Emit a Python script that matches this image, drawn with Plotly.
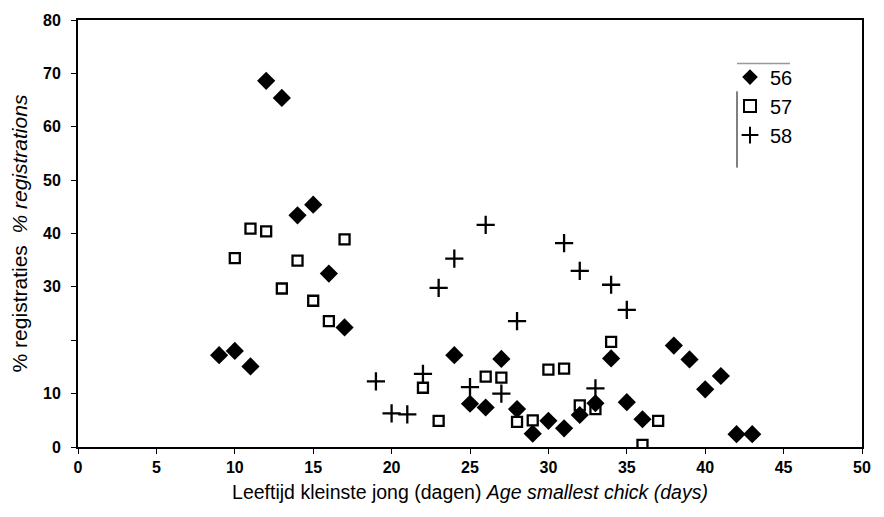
import plotly.graph_objects as go

# Series 56 (filled diamonds)
x56 = [9, 10, 11, 12, 13, 14, 15, 16, 17, 24, 25, 26, 27, 28, 29, 30, 31, 32, 33, 34, 35, 36, 38, 39, 40, 41, 42, 43]
y56 = [17.2, 18.0, 15.1, 68.6, 65.4, 43.4, 45.4, 32.5, 22.4, 17.2, 8.1, 7.4, 16.5, 7.1, 2.5, 4.9, 3.5, 6.0, 8.2, 16.6, 8.4, 5.2, 19.0, 16.4, 10.8, 13.3, 2.4, 2.4]

# Series 57 (open squares)
x57 = [10, 11, 12, 13, 14, 15, 16, 17, 22, 23, 26, 27, 28, 29, 30, 31, 32, 33, 34, 36, 37]
y57 = [35.4, 40.9, 40.4, 29.7, 34.9, 27.4, 23.6, 38.9, 11.1, 4.9, 13.2, 13.0, 4.7, 5.0, 14.5, 14.7, 7.8, 7.1, 19.7, 0.4, 4.9]

# Series 58 (plus)
x58 = [19, 20, 21, 22, 23, 24, 25, 26, 27, 28, 31, 32, 33, 34, 35]
y58 = [12.3, 6.3, 6.1, 13.7, 29.8, 35.3, 11.2, 41.6, 10.0, 23.6, 38.2, 33.0, 11.0, 30.4, 25.7]

x_ticks = [0, 5, 10, 15, 20, 25, 30, 35, 40, 45, 50]
y_ticks = [0, 10, 20, 30, 40, 50, 60, 70, 80]
y_ticktext = ["0", "10", "", "30", "40", "50", "60", "70", "80"]

FONT = "Liberation Sans, Arial, sans-serif"

fig = go.Figure()
fig.add_trace(go.Scatter(x=x56, y=y56, mode="markers", name="56",
                         marker=dict(symbol="diamond", size=14, color="black")))
fig.add_trace(go.Scatter(x=x57, y=y57, mode="markers", name="57",
                         marker=dict(symbol="square-open", size=10, color="black",
                                     line=dict(width=2.3, color="black"))))
fig.add_trace(go.Scatter(x=x58, y=y58, mode="markers", name="58",
                         marker=dict(symbol="cross-thin", size=13, color="black",
                                     line=dict(width=2.3, color="black"))))

fig.update_layout(
    width=884, height=517,
    margin=dict(l=78, r=22, t=16, b=70),
    paper_bgcolor="white", plot_bgcolor="white",
    font=dict(family=FONT, color="black"),
    showlegend=True,
    legend=dict(x=(730 - 78) / 784, y=0.912, xanchor="left", yanchor="top",
                bgcolor="rgba(255,255,255,0)", borderwidth=0,
                font=dict(size=20, family=FONT, color="black"),
                itemsizing="constant", tracegroupgap=4),
    xaxis=dict(range=[0, 50], tickvals=x_ticks, ticktext=[str(v) for v in x_ticks],
               showgrid=False, zeroline=False, showline=True, linecolor="black",
               linewidth=2, mirror=True, ticks="outside", ticklen=5, tickwidth=1,
               tickcolor="black",
               tickfont=dict(size=16, family=FONT, color="black", weight="bold"),
               title=dict(text="Leeftijd kleinste jong (dagen) <i>Age smallest chick (days)</i>",
                          font=dict(size=19.5, family=FONT, color="black"), standoff=10)),
    yaxis=dict(range=[0, 80], tickvals=y_ticks, ticktext=y_ticktext,
               showgrid=False, zeroline=False, showline=True, linecolor="black",
               linewidth=2, mirror=True, ticks="outside", ticklen=5, tickwidth=1,
               tickcolor="black", ticklabelstandoff=7,
               tickfont=dict(size=16, family=FONT, color="black", weight="bold"),
               title=dict(text="% registraties&nbsp;&nbsp;<i>% registrations</i>",
                          font=dict(size=21, family=FONT, color="black"), standoff=10)),
)

# partial legend frame (top grey line, left black line)
fig.add_shape(type="line", xref="paper", yref="paper",
              x0=(737 - 78) / 784, x1=(790 - 78) / 784,
              y0=(447 - 60) / 431, y1=(447 - 60) / 431,
              line=dict(color="#999999", width=1.5))
fig.add_shape(type="line", xref="paper", yref="paper",
              x0=(737 - 78) / 784, x1=(737 - 78) / 784,
              y0=(447 - 88) / 431, y1=(447 - 165) / 431,
              line=dict(color="black", width=1))

fig.write_html("out.html")
